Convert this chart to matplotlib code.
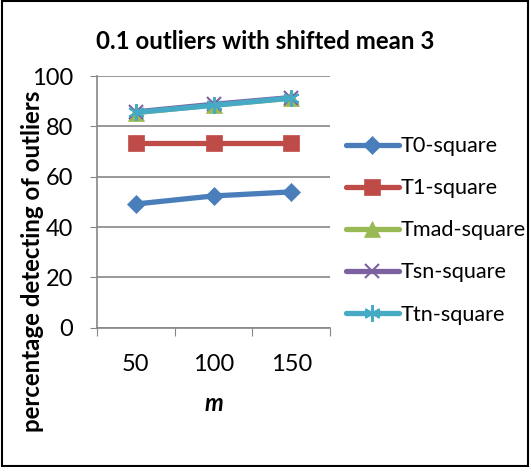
import matplotlib.pyplot as plt
from matplotlib.patches import Rectangle

plt.rcParams['font.family'] = ['Lato', 'DejaVu Sans']

m_labels = ['50', '100', '150']
t0 = [49.2, 52.4, 54.0]
t1 = [73.6, 73.6, 73.6]
tmad = [85.5, 88.5, 91.2]
tsn = [85.8, 88.8, 91.5]
ttn = [85.6, 88.4, 91.3]

series = [
    ('T0-square', t0, '#4a7ebb', 'D', 9),
    ('T1-square', t1, '#be4b48', 's', 11),
    ('Tmad-square', tmad, '#98b954', '^', 11),
    ('Tsn-square', tsn, '#7d60a0', 'x', 10),
    ('Ttn-square', ttn, '#46aac5', (6, 2, 0), 12),
]

fig = plt.figure(figsize=(5.3, 4.67), dpi=100)
ax = fig.add_axes([0.183, 0.298, 0.44, 0.539])
x = [0, 1, 2]
for name, vals, color, marker, ms in series:
    ax.plot(x, vals, color=color, lw=3.8, marker=marker, markersize=ms,
            markeredgewidth=1.5 if marker in ('x', (6, 2, 0)) else 0.5,
            markeredgecolor=color, label=name, solid_capstyle='round')

ax.set_xlim(-0.5, 2.5)
ax.set_ylim(0, 100)
ax.set_yticks([0, 20, 40, 60, 80, 100])
ax.set_xticks([-0.5, 0.5, 1.5, 2.5], minor=False)
ax.set_xticklabels([])
ax.set_xticks(x, minor=True)
ax.set_xticklabels(m_labels, minor=True)
ax.tick_params(axis='x', which='minor', length=0, labelsize=17, pad=19)
ax.tick_params(axis='x', which='major', length=6, color='#868686', direction='out')
ax.tick_params(axis='y', length=5, color='#868686', labelsize=17, pad=12)
ax.grid(axis='y', color='#868686', lw=1.2)
ax.set_axisbelow(True)
for s in ['top', 'right']:
    ax.spines[s].set_visible(False)
for s in ['left', 'bottom']:
    ax.spines[s].set_color('#868686')
    ax.spines[s].set_linewidth(1.2)

ax.set_xlabel('m', fontsize=17, fontweight='bold', style='italic', labelpad=12)
fig.text(0.062, 0.44, 'percentage detecting of outliers', rotation=90,
         fontsize=17.3, fontweight='bold', ha='center', va='center')
fig.text(0.5, 0.912, '0.1 outliers with shifted mean 3', fontsize=17.3,
         fontweight='bold', ha='center', va='center')

leg = fig.legend(loc='upper left', bbox_to_anchor=(0.636, 0.727), frameon=False,
                 fontsize=15.6, handlelength=2.45, handletextpad=0.08,
                 labelspacing=1.02, borderaxespad=0)

fig.patches.append(Rectangle((0.003, 0.003), 0.994, 0.994, transform=fig.transFigure,
                             fill=False, edgecolor='black', lw=1.5))

fig.savefig('out.png', dpi=100)
